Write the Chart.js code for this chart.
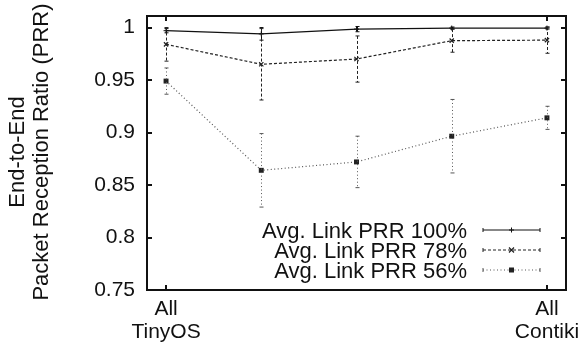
<!DOCTYPE html>
<html>
<head>
<meta charset="utf-8">
<script src="https://cdn.jsdelivr.net/npm/chart.js@4/dist/chart.umd.min.js"></script>
<style>
html,body{margin:0;padding:0;background:#fff;}
#wrap{width:581px;height:350px;}
</style>
</head>
<body>
<div id="wrap"><canvas id="c" width="581" height="350"></canvas></div>
<script>
// ---- data ----
const xPositions = [0, 1, 2, 3, 4];
const xTickLabels = { 0: ['All', 'TinyOS'], 4: ['All', 'Contiki'] };
const yTicks = [0.75, 0.8, 0.85, 0.9, 0.95, 1];
const seriesNames = ['Avg. Link PRR 100%', 'Avg. Link PRR 78%', 'Avg. Link PRR 56%'];
const prr100 = [0.997, 0.994, 0.9985, 0.9995, 0.9995];
const err100 = [0.002, 0.006, 0.0025, 0.001, 0.001];
const prr78 = [0.984, 0.965, 0.970, 0.9875, 0.988];
const err78 = [0.016, 0.034, 0.022, 0.011, 0.0125];
const prr56 = [0.949, 0.864, 0.872, 0.8965, 0.914];
const err56 = [0.0125, 0.035, 0.0245, 0.035, 0.011];
const yTitle = ['End-to-End', 'Packet Reception Ratio (PRR)'];

const FONT = '"Liberation Sans", Arial, Helvetica, sans-serif';

function pts(vals){ return xPositions.map((x,i)=>({x:x, y:vals[i]})); }

const datasets = [
  {label: seriesNames[0], data: pts(prr100), errors: err100, borderColor:'#111', borderWidth:1.2, borderDash:[],
   pointStyle:'cross', pointRadius:2.5, pointBorderColor:'#111', pointBackgroundColor:'#111', pointBorderWidth:1},
  {label: seriesNames[1], data: pts(prr78), errors: err78, borderColor:'#222', borderWidth:1.2, borderDash:[3,2],
   pointStyle:'crossRot', pointRadius:3, pointBorderColor:'#222', pointBackgroundColor:'#222', pointBorderWidth:1.2},
  {label: seriesNames[2], data: pts(prr56), errors: err56, borderColor:'#555', borderWidth:1.2, borderDash:[1,2.5],
   pointStyle:'rect', pointRadius:3.5, pointBorderColor:'#222', pointBackgroundColor:'#222', pointBorderWidth:0}
];

function drawErr(ctx, px, top, bot, dash){
  ctx.setLineDash(dash);
  ctx.beginPath(); ctx.moveTo(px, top); ctx.lineTo(px, bot); ctx.stroke();
  ctx.setLineDash([]);
  ctx.beginPath();
  ctx.moveTo(px-2, top); ctx.lineTo(px+2, top);
  ctx.moveTo(px-2, bot); ctx.lineTo(px+2, bot);
  ctx.stroke();
}

const errPlugin = {
  id: 'errbars',
  afterDatasetsDraw(chart){
    const ctx = chart.ctx, xs = chart.scales.x, ys = chart.scales.y;
    const ca = chart.chartArea;
    ctx.save();
    ctx.beginPath(); ctx.rect(ca.left, ca.top, ca.right-ca.left, ca.bottom-ca.top); ctx.clip();
    chart.data.datasets.forEach(ds=>{
      ctx.strokeStyle = ds.borderColor; ctx.lineWidth = 1;
      ds.data.forEach((p,i)=>{
        const e = ds.errors[i];
        const px = Math.round(xs.getPixelForValue(p.x)) + 0.5;
        drawErr(ctx, px, ys.getPixelForValue(p.y+e), ys.getPixelForValue(p.y-e), ds.borderDash);
      });
    });
    ctx.restore();
  }
};

const framePlugin = {
  id: 'frame',
  afterDraw(chart){
    const ctx = chart.ctx, ca = chart.chartArea, xs = chart.scales.x, ys = chart.scales.y;
    ctx.save();
    ctx.strokeStyle = '#111'; ctx.lineWidth = 2; ctx.setLineDash([]);
    ctx.strokeRect(ca.left, ca.top, ca.right-ca.left, ca.bottom-ca.top);
    ctx.lineWidth = 2;
    ctx.beginPath();
    yTicks.forEach(v=>{
      const py = Math.round(ys.getPixelForValue(v));
      ctx.moveTo(ca.left, py); ctx.lineTo(ca.left+5, py);
      ctx.moveTo(ca.right, py); ctx.lineTo(ca.right-5, py);
    });
    Object.keys(xTickLabels).forEach(k=>{
      const px = Math.round(xs.getPixelForValue(Number(k)));
      ctx.moveTo(px, ca.bottom); ctx.lineTo(px, ca.bottom-5);
      ctx.moveTo(px, ca.top); ctx.lineTo(px, ca.top+5);
    });
    ctx.stroke();

    // y axis title
    ctx.fillStyle = '#111';
    ctx.font = '22px ' + FONT;
    ctx.textAlign = 'center'; ctx.textBaseline = 'middle';
    ctx.translate(0, 152);
    ctx.rotate(-Math.PI/2);
    ctx.fillText(yTitle[0], 0, 18);
    ctx.fillText(yTitle[1], 0, 42);
    ctx.restore();

    // legend
    ctx.save();
    ctx.font = '22px ' + FONT;
    ctx.fillStyle = '#111';
    ctx.textAlign = 'right'; ctx.textBaseline = 'middle';
    const rows = [232, 252, 272];
    chart.data.datasets.forEach((ds, i)=>{
      const yy = rows[i];
      ctx.fillStyle = '#111';
      ctx.fillText(ds.label, 467, yy);
      const ly = yy - 2.5 + 0.5;
      ctx.strokeStyle = ds.borderColor; ctx.lineWidth = 1;
      ctx.setLineDash(ds.borderDash);
      ctx.beginPath(); ctx.moveTo(483, ly); ctx.lineTo(540, ly); ctx.stroke();
      ctx.setLineDash([]);
      ctx.beginPath(); ctx.moveTo(483, ly-2); ctx.lineTo(483, ly+2); ctx.moveTo(540, ly-2); ctx.lineTo(540, ly+2); ctx.stroke();
      ctx.fillStyle = ds.pointBackgroundColor; ctx.strokeStyle = ds.pointBorderColor;
      ctx.lineWidth = ds.pointBorderWidth || 1;
      ctx.beginPath();
      if (ds.pointStyle === 'rect') { ctx.fillRect(509, ly-2.5, 5, 5); }
      else if (ds.pointStyle === 'cross') { ctx.moveTo(509, ly); ctx.lineTo(514, ly); ctx.moveTo(511.5, ly-2.5); ctx.lineTo(511.5, ly+2.5); ctx.stroke(); }
      else { ctx.moveTo(509, ly-2.5); ctx.lineTo(514, ly+2.5); ctx.moveTo(514, ly-2.5); ctx.lineTo(509, ly+2.5); ctx.stroke(); }
    });
    ctx.restore();
  }
};

new Chart(document.getElementById('c'), {
  type: 'line',
  data: { datasets: datasets },
  options: {
    responsive: false,
    animation: false,
    devicePixelRatio: 1,
    layout: { padding: { left: 0, top: 16, right: 15, bottom: 0 } },
    plugins: { legend: { display: false }, tooltip: { enabled: false } },
    elements: { line: { tension: 0, fill: false } },
    scales: {
      x: {
        type: 'linear', min: -0.2, max: 4.2,
        grid: { display: false, drawTicks: false },
        border: { display: false },
        afterBuildTicks(scale){ scale.ticks = Object.keys(xTickLabels).map(k=>({value:Number(k)})); },
        afterFit(scale){ scale.height = 60; scale.paddingLeft = 0; scale.paddingRight = 0; },
        ticks: {
          autoSkip: false, maxRotation: 0, padding: 8,
          color: '#111', font: { family: FONT, size: 21, lineHeight: 1.1 },
          callback(v){ return xTickLabels[v] || ''; }
        }
      },
      y: {
        min: 0.75, max: 1.011,
        grid: { display: false, drawTicks: false },
        border: { display: false },
        afterBuildTicks(scale){ scale.ticks = yTicks.map(v=>({value:v})); },
        afterFit(scale){ scale.width = 147; scale.paddingTop = 0; scale.paddingBottom = 0; },
        ticks: {
          padding: 12, color: '#111', font: { family: FONT, size: 21 },
          callback(v){ return String(v); }
        }
      }
    }
  },
  plugins: [errPlugin, framePlugin]
});
</script>
</body>
</html>
